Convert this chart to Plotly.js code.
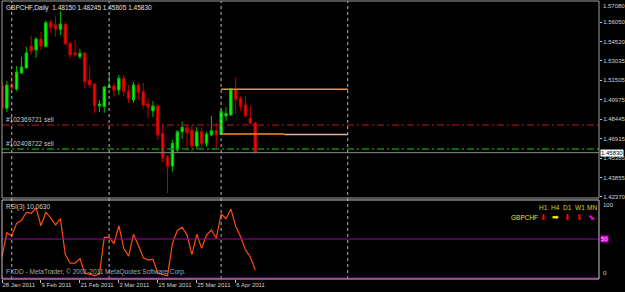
<!DOCTYPE html>
<html><head><meta charset="utf-8">
<script src="https://cdn.plot.ly/plotly-3.0.1.min.js"></script>
<style>html,body{margin:0;padding:0;background:#000;}#chart{width:625px;height:292px;}</style>
</head><body><div id="chart"></div>
<script>
const symbol = 'GBPCHF';
const period = 'Daily';
const dates = ['2011-01-28','2011-01-31','2011-02-01','2011-02-02','2011-02-03','2011-02-04','2011-02-07','2011-02-08','2011-02-09','2011-02-10','2011-02-11','2011-02-14','2011-02-15','2011-02-16','2011-02-17','2011-02-18','2011-02-21','2011-02-22','2011-02-23','2011-02-24','2011-02-25','2011-02-28','2011-03-01','2011-03-02','2011-03-03','2011-03-04','2011-03-07','2011-03-08','2011-03-09','2011-03-10','2011-03-11','2011-03-14','2011-03-15','2011-03-16','2011-03-17','2011-03-18','2011-03-21','2011-03-22','2011-03-23','2011-03-24','2011-03-25','2011-03-28','2011-03-29','2011-03-30','2011-03-31','2011-04-01','2011-04-04','2011-04-05','2011-04-06','2011-04-07','2011-04-08','2011-04-11','2011-04-12'];
const open  = [1.5105,1.4930,1.5112,1.5081,1.5206,1.5245,1.5417,1.5386,1.5472,1.5412,1.5600,1.5582,1.5548,1.5586,1.5437,1.5363,1.5334,1.5363,1.5151,1.5120,1.4948,1.4943,1.5093,1.5105,1.5073,1.5165,1.5065,1.4995,1.5112,1.5060,1.4964,1.4909,1.4948,1.4735,1.4549,1.4479,1.4604,1.4747,1.4778,1.4760,1.4635,1.4747,1.4656,1.4721,1.4755,1.4725,1.4870,1.4878,1.5077,1.5008,1.4956,1.4850,1.48150];
const high  = [1.5136,1.5144,1.5214,1.5261,1.5331,1.5410,1.5496,1.5488,1.5527,1.5617,1.5621,1.5648,1.5686,1.5607,1.5449,1.5464,1.5394,1.5370,1.5261,1.5128,1.4995,1.5105,1.5206,1.5128,1.5191,1.5191,1.5112,1.5138,1.5130,1.5128,1.5008,1.4987,1.4964,1.4807,1.4565,1.4682,1.4760,1.4825,1.4800,1.4800,1.4784,1.4784,1.4747,1.4870,1.4815,1.4917,1.4940,1.5089,1.5177,1.5026,1.5026,1.4948,1.48245];
const low   = [1.4917,1.4901,1.5073,1.5065,1.5198,1.5238,1.5347,1.5324,1.5386,1.5410,1.5519,1.5492,1.5503,1.5425,1.5320,1.5331,1.5316,1.5089,1.5089,1.4893,1.4901,1.4893,1.5089,1.5019,1.5034,1.5026,1.4972,1.4972,1.4995,1.4925,1.4854,1.4862,1.4682,1.4510,1.4268,1.4434,1.4588,1.4690,1.4596,1.4588,1.4612,1.4620,1.4628,1.4717,1.4620,1.4721,1.4831,1.4870,1.4886,1.4909,1.4862,1.4807,1.45805];
const close = [1.4933,1.5112,1.5089,1.5214,1.5253,1.5363,1.5378,1.5472,1.5417,1.5600,1.5564,1.5550,1.5589,1.5433,1.5347,1.5347,1.5360,1.5136,1.5112,1.4948,1.4964,1.5097,1.5105,1.5069,1.5165,1.5060,1.5003,1.5112,1.5052,1.4956,1.4940,1.4948,1.4721,1.4539,1.4475,1.4656,1.4747,1.4782,1.4739,1.4635,1.4747,1.4656,1.4729,1.4755,1.4721,1.4904,1.4891,1.5079,1.5000,1.4943,1.4870,1.4813,1.45830];
const rsiPeriod = 3;
const rsi = [27,58,54,70,74,84,83,90,67,84,77,68,76,30,19,19,25,6,5,3,5,52,52,44,67,38,28,56,42,26,23,24,6,4,3,44,61,65,55,30,56,38,55,61.5,51,82,76,88.5,66,53,36,27,10.063];
const rsiLevels = [50, 0];
const priceTicks = [1.56050,1.54520,1.53035,1.51505,1.49975,1.48445,1.46915,1.45385,1.43855,1.42370];
const topPriceLabel = '1.57080';
const dateTickIdx = [0,8,16,24,32,40,48];
const orderLabels = ['#102369721 sell','#102408722 sell'];
const orderPrices = [1.47995, 1.46119];
const orderColors = ['#c01818','#0a8a0a'];
const bidPrice = 1.45830;
const separatorIdx = [2, 22, 45, 71];
const boxLevels = [1.50787, 1.47290, 1.47260];
const boxStart = [45, 45, 58];
const boxEnd = [71, 58, 71];
const boxColors = ['#f09050','#ff8a30','#e8b090'];
const tfLabels = ['H1','H4','D1','W1','MN'];
const tfArrows = ['⬇','➡','⬇','⬇','⬊'];
const tfArrowColors = ['#ff0000','#ffff00','#ff0000','#ff0000','#ff00ff'];

const idx = dates.map((d,i)=>i);
const mon = ['Jan','Feb','Mar','Apr','May','Jun','Jul','Aug','Sep','Oct','Nov','Dec'];
function fmtDate(s){const p=s.split('-');return (+p[2])+' '+mon[+p[1]-1]+' '+p[0];}

const FONT = 'Liberation Sans, Arial, sans-serif';
const FS = 6.5;
const TFS = 6;
const mainDom = [0.2914, 1];
const rsiDom = [0, 0.2842];

const traces = [
  {type:'candlestick', x:idx, open:open, high:high, low:low, close:close, xaxis:'x', yaxis:'y',
   increasing:{line:{color:'#00c000',width:1}, fillcolor:'#00ff00'},
   decreasing:{line:{color:'#c00000',width:1}, fillcolor:'#ff0000'},
   whiskerwidth:0, hoverinfo:'skip', showlegend:false},
  {type:'scatter', mode:'lines', x:idx, y:rsi, xaxis:'x', yaxis:'y2',
   line:{color:'#ff4a10', width:1.2}, hoverinfo:'skip', showlegend:false}
];

const shapes = [];
separatorIdx.forEach(s=>shapes.push({type:'line', xref:'x', yref:'paper', x0:s, x1:s, y0:0, y1:1,
  line:{color:'#b8b8b8', width:1, dash:'dot'}, layer:'above'}));
orderPrices.forEach((p,i)=>shapes.push({type:'line', xref:'paper', yref:'y', x0:0, x1:1, y0:p, y1:p,
  line:{color:orderColors[i], width: i===1?1.5:1, dash:'7px,3px,2px,3px'}}));
shapes.push({type:'line', xref:'paper', yref:'y', x0:0, x1:1, y0:bidPrice, y1:bidPrice, line:{color:'#8c8c8c', width:1}});
boxLevels.forEach((p,i)=>shapes.push({type:'line', xref:'x', yref:'y', x0:boxStart[i], x1:boxEnd[i], y0:p, y1:p,
  line:{color:boxColors[i], width:1.5}}));
rsiLevels.forEach(l=>shapes.push({type:'line', xref:'paper', yref:'y2', x0:0, x1:1, y0:l, y1:l,
  line:{color:'#a000a0', width:1.2}}));
shapes.push({type:'rect', xref:'paper', yref:'paper', x0:0, x1:1, y0:mainDom[0], y1:mainDom[1], line:{color:'#a0a0a0', width:1}, layer:'above'});
shapes.push({type:'rect', xref:'paper', yref:'paper', x0:0, x1:1, y0:rsiDom[0], y1:rsiDom[1], line:{color:'#c8c0c8', width:1}, layer:'above'});

const ann = [];
const last = close.length-1;
ann.push({xref:'paper', yref:'paper', x:0.004, y:1, xanchor:'left', yanchor:'top', yshift:-1, showarrow:false,
  text: symbol+','+period+'  '+[open[last],high[last],low[last],close[last]].map(v=>v.toFixed(5)).join(' '),
  font:{family:FONT, size:FS, color:'#e0e0e0'}});
orderLabels.forEach((t,i)=>ann.push({xref:'paper', yref:'y', x:0.004, y:orderPrices[i], xanchor:'left', yanchor:'bottom', yshift:0,
  showarrow:false, text:t, font:{family:FONT, size:FS, color:'#c8c8c8'}}));
ann.push({xref:'paper', yref:'y', x:1, y:bidPrice, xanchor:'left', yanchor:'middle', xshift:1, showarrow:false,
  text:bidPrice.toFixed(5), bgcolor:'#ffffff', borderpad:0, font:{family:FONT, size:TFS, color:'#000000'}});
ann.push({xref:'paper', yref:'paper', x:1, y:1, xanchor:'left', yanchor:'top', xshift:2, showarrow:false,
  text:topPriceLabel, font:{family:FONT, size:TFS, color:'#d0d0d0'}});
ann.push({xref:'paper', yref:'paper', x:0.004, y:rsiDom[1], xanchor:'left', yanchor:'top', yshift:-1, showarrow:false,
  text:'RSI('+rsiPeriod+') '+rsi[last].toFixed(4), font:{family:FONT, size:FS, color:'#d0d0d0'}});
ann.push({xref:'paper', yref:'paper', x:0.004, y:0, xanchor:'left', yanchor:'bottom', yshift:1, showarrow:false,
  text:'FXDD - MetaTrader, © 2001-2011 MetaQuotes Software Corp.', font:{family:FONT, size:FS, color:'#a8a8a8'}});
ann.push({xref:'paper', yref:'y2', x:1, y:100, xanchor:'left', yanchor:'top', xshift:2, showarrow:false,
  text:'100', font:{family:FONT, size:TFS, color:'#d0d0d0'}});
ann.push({xref:'paper', yref:'y2', x:1, y:50, xanchor:'left', yanchor:'middle', xshift:1, showarrow:false,
  text:'50', bgcolor:'#d000d0', borderpad:0, font:{family:FONT, size:TFS, color:'#ffc0ff'}});
ann.push({xref:'paper', yref:'y2', x:1, y:0, xanchor:'left', yanchor:'bottom', xshift:2, showarrow:false,
  text:'0', font:{family:FONT, size:TFS, color:'#d0d0d0'}});
const tfX = [543.5, 555.5, 567.5, 579.5, 591.5];
tfLabels.forEach((t,i)=>{
  ann.push({xref:'paper', yref:'y2', x:(tfX[i]-2)/597, y:90, xanchor:'center', yanchor:'middle', showarrow:false,
    text:t, font:{family:FONT, size:FS, color:'#d8d820'}});
  ann.push({xref:'paper', yref:'y2', x:(tfX[i]-2)/597, y:78, xanchor:'center', yanchor:'middle', showarrow:false,
    text:tfArrows[i], font:{family:'DejaVu Sans', size:8, color:tfArrowColors[i]}});
});
ann.push({xref:'paper', yref:'y2', x:(524-2)/597, y:78, xanchor:'center', yanchor:'middle', showarrow:false,
  text:symbol, font:{family:FONT, size:FS, color:'#e0e040'}});

const layout = {
  width:625, height:292, margin:{l:2, r:26, t:1, b:13},
  paper_bgcolor:'#000000', plot_bgcolor:'#000000', showlegend:false,
  xaxis:{anchor:'y2', range:[0,122.6], showgrid:false, zeroline:false, showline:false,
    rangeslider:{visible:false}, tickmode:'array', tickvals:dateTickIdx, ticktext:dateTickIdx.map(i=>fmtDate(dates[i])),
    tickangle:0, ticks:'outside', ticklen:3, tickcolor:'#c0c0c0', ticklabelposition:'outside right',
    tickfont:{family:FONT, size:TFS, color:'#d0d0d0'}},
  yaxis:{domain:mainDom, anchor:'x', side:'right', range:[1.42287,1.57692], showgrid:false, zeroline:false, showline:false,
    tickmode:'array', tickvals:priceTicks, ticktext:priceTicks.map(v=>v.toFixed(5)),
    ticks:'outside', ticklen:2, tickcolor:'#c0c0c0', tickfont:{family:FONT, size:TFS, color:'#d0d0d0'}},
  yaxis2:{domain:rsiDom, anchor:'x', side:'right', range:[-1.28,100], showgrid:false, zeroline:false, showline:false,
    showticklabels:false, ticks:''},
  shapes:shapes, annotations:ann
};
Plotly.newPlot('chart', traces, layout, {staticPlot:true, displayModeBar:false});
</script></body></html>
